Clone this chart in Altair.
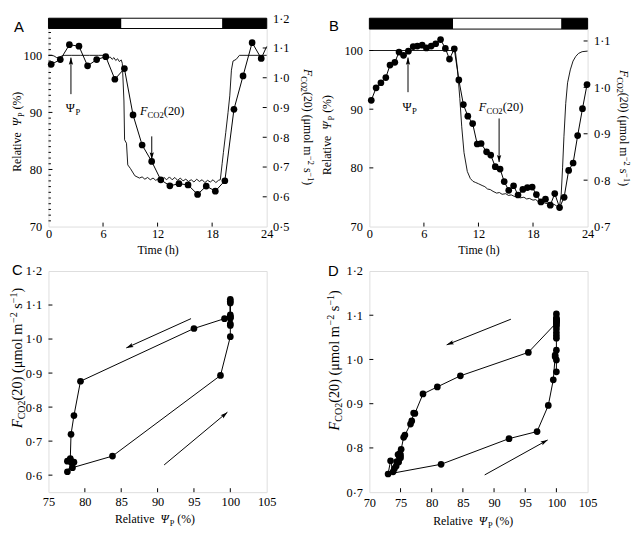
import math
import altair as alt
import pandas as pd

SERIF = "Liberation Serif"
SANS = "Liberation Sans"

# ---------------- data ----------------
# (A) relative turgor pressure, thin line, left axis
a_psi_t = [0.0, 0.3, 0.6, 0.9, 1.2, 1.5, 1.8, 2.5, 3.5, 4.5, 5.5, 6.3, 6.5, 6.8, 7.0, 7.2, 7.4, 7.6, 7.8, 8.0,
           8.12, 8.3, 8.37, 8.58, 8.72, 9.0, 9.5, 10.0, 10.3, 10.6, 10.9, 11.2, 11.5, 11.8, 12.1, 12.4, 12.7,
           13.0, 13.3, 13.6, 13.9, 14.2, 14.5, 14.8, 15.1, 15.4, 15.7, 16.0, 16.3, 16.6, 16.9, 17.2, 17.5,
           17.8, 18.1, 18.4, 18.7, 18.9, 19.1, 19.24, 19.5, 19.75, 19.94, 20.12, 20.3, 20.65, 21.0, 24.0]
a_psi_v = [100.0, 100.0, 99.9, 99.6, 99.7, 99.9, 100.0, 100.0, 100.0, 100.0, 100.0, 100.0, 99.6, 99.7, 99.3,
           99.6, 99.1, 99.4, 98.9, 99.2, 98.6, 92.0, 85.2, 84.6, 80.8, 80.2, 78.9, 78.5, 78.7, 78.3, 78.6,
           78.2, 78.5, 78.1, 78.4, 78.0, 78.6, 78.2, 78.7, 78.2, 78.6, 78.1, 78.5, 78.0, 78.3, 77.9, 78.2,
           77.8, 78.3, 77.9, 78.2, 77.7, 78.1, 77.8, 78.2, 77.7, 78.1, 78.2, 81.0, 83.0, 86.5, 90.0, 92.9,
           97.4, 99.0, 99.3, 100.0, 100.0]
# (A) FCO2(20) dots, right axis
a_f_t = [0.3, 1.3, 2.3, 3.35, 4.3, 5.3, 6.3, 7.3, 8.35, 9.3, 10.3, 11.35, 12.35, 13.35, 14.35, 15.35,
         16.4, 17.35, 18.35, 19.4, 20.4, 21.4, 22.4, 23.4]
a_f = [1.045, 1.061, 1.111, 1.106, 1.040, 1.061, 1.071, 0.995, 1.031, 0.875, 0.774, 0.719, 0.657, 0.637,
       0.644, 0.640, 0.608, 0.636, 0.619, 0.654, 0.894, 1.006, 1.118, 1.065]
a_f_edge_t = [24.0]
a_f_edge = [1.105]
a_dark_start = [0.0, 19.1]
a_dark_end = [8.0, 24.0]

# (B)
b_psi_t = [0.0, 9.45, 9.7, 9.95, 10.16, 10.41, 10.77, 11.1, 11.4, 11.7, 12.0, 12.4, 12.7, 13.0, 13.3, 13.6,
           14.0, 14.3, 14.6, 15.0, 15.3, 15.6, 16.0, 16.3, 16.6, 17.0, 17.3, 17.6, 18.0, 18.3, 18.6, 19.0,
           19.3, 19.6, 20.0, 20.3, 20.6, 20.9, 21.1, 21.25, 21.4, 21.6, 21.8, 22.1, 22.4, 22.7, 23.0, 23.4, 24.0]
b_psi_v = [100.0, 100.0, 96.7, 91.8, 87.0, 82.6, 79.4, 78.2, 77.7, 77.5, 77.3, 77.0, 76.8, 76.4, 76.3, 76.0,
           75.7, 75.8, 75.5, 75.6, 75.3, 75.4, 75.1, 75.2, 74.9, 75.0, 74.7, 74.8, 74.5, 74.6, 74.2, 74.3,
           74.0, 73.9, 73.7, 73.8, 73.5, 73.3, 75.5, 80.0, 85.3, 91.0, 94.5, 96.7, 98.2, 99.0, 99.5, 99.8, 99.9]
b_f_t = [0.21, 0.74, 1.27, 1.81, 2.27, 2.80, 3.26, 3.76, 4.29, 4.82, 5.28, 5.81, 6.27, 6.80, 7.30, 7.83,
         8.36, 8.81, 9.34, 9.84, 10.34, 10.83, 11.36, 11.86, 12.29, 12.89, 13.35, 13.85, 14.38, 14.83,
         15.33, 15.86, 16.35, 16.88, 17.38, 17.91, 18.37, 18.87, 19.37, 19.90, 20.39, 20.92, 21.42, 21.92,
         22.41, 22.91, 23.44, 23.94]
b_f = [0.972, 0.999, 1.010, 1.021, 1.048, 1.054, 1.076, 1.069, 1.078, 1.088, 1.089, 1.091, 1.085, 1.089,
       1.094, 1.103, 1.084, 1.061, 1.083, 1.016, 0.963, 0.938, 0.922, 0.878, 0.879, 0.861, 0.854, 0.829,
       0.824, 0.797, 0.778, 0.788, 0.768, 0.780, 0.784, 0.785, 0.769, 0.753, 0.759, 0.746, 0.771, 0.741,
       0.763, 0.821, 0.837, 0.896, 0.954, 1.006]
b_dark_start = [0.0, 21.1]
b_dark_end = [9.2, 24.0]

# (C) FCO2(20) against relative Ψp (in time order)
c_psi = [100.0, 100.0, 100.0, 100.0, 100.0, 100.0, 100.0, 99.2, 95.0, 79.4, 78.5, 78.1, 78.0, 77.6, 78.0,
         78.5, 77.6, 78.2, 78.3, 83.8, 98.65, 100.0, 100.0, 100.0]
c_f = [1.045, 1.061, 1.111, 1.106, 1.040, 1.065, 1.071, 1.060, 1.031, 0.876, 0.775, 0.720, 0.649, 0.641,
       0.645, 0.638, 0.610, 0.636, 0.622, 0.656, 0.893, 1.007, 1.117, 1.065]

# (D) relative Ψp at the times of the B dots (FCO2 = b_f)
d_psi = [100.0, 100.0, 99.8, 100.0, 100.0, 100.0, 100.0, 100.0, 100.0, 100.0,
         100.0, 100.0, 100.0, 100.0, 100.0, 100.0, 100.0, 100.0, 100.0, 95.5,
         84.6, 80.9, 78.6, 77.3, 77.1, 76.8, 76.6, 75.7, 75.5, 75.1,
         75.0, 74.9, 74.7, 74.8, 75.0, 74.6, 74.4, 74.0, 74.3, 73.8,
         73.4, 73.0, 81.5, 92.4, 96.9, 98.7, 99.5, 99.8]

# tick values
time_ticks = [0, 6, 12, 18, 24]
psi_ticks = [70, 80, 90, 100]
psi_minor = [v for v in range(71, 107) if v % 10]
a_f_ticks = [0.5, 0.6, 0.7, 0.8, 0.9, 1.0, 1.1, 1.2]
b_f_ticks = [0.7, 0.8, 0.9, 1.0, 1.1]
c_x_ticks = [75, 80, 85, 90, 95, 100, 105]
c_y_ticks = [0.6, 0.7, 0.8, 0.9, 1.0, 1.1, 1.2]
d_x_ticks = [70, 75, 80, 85, 90, 95, 100, 105]
d_y_ticks = [0.7, 0.8, 0.9, 1.0, 1.1, 1.2]

# ---------------- layout ----------------
W = 221
HT = 211
HB = 224
COL_GAP = 104
ROW_GAP = 45
DOT = "replace(format(datum.value, '.1f'), '.', '·')"
HEAD = "M0,0L0.3,1L0,0.82L-0.3,1Z"

CW = {' ': 0.25, '(': 0.333, ')': 0.333, '%': 0.833, 'R': 0.667, 'e': 0.444, 'l': 0.278, 'a': 0.444,
      't': 0.278, 'i': 0.278, 'v': 0.5, 'm': 0.778, 'o': 0.5, 's': 0.389, 'μ': 0.576, 'C': 0.667,
      'O': 0.722, 'F': 0.611, 'P': 0.556, 'Ψ': 0.78, '−': 0.564}


def tw(s, size):
    return size * sum(CW.get(c, 0.5) for c in s)


def psi_title(s=12):
    return [("Relative  ", s, False, 0), ("Ψ", s, True, 0), ("P", s * 0.7, False, s * 0.25),
            (" (%)", s, False, 0)]


def f_title(s=12):
    k = s * 0.7
    return [("F", s, True, 0), ("CO2", k, False, s * 0.25), ("(20) (μmol m", s, False, 0),
            ("−2", k, False, -s * 0.33), (" s", s, False, 0), ("−1", k, False, -s * 0.33), (")", s, False, 0)]


F_LABEL = [("F", 12.5, True, 0), ("CO2", 8.75, False, 3), ("(20)", 12.5, False, 0)]
PSI_LABEL = [("Ψ", 12.5, False, 0), ("P", 8.75, False, 3)]


def rich(pieces, enc, data=None, angle=0, align='center'):
    df = data if data is not None else pd.DataFrame({'k': [0]})
    total = sum(tw(t, s) for t, s, _, _ in pieces)
    pos = -total / 2 if align == 'center' else 0.0
    out = []
    for t, s, ital, shift in pieces:
        body = t.lstrip(' ')
        lead = tw(t[:len(t) - len(body)], s)
        body = body.rstrip(' ')
        props = dict(text=body, align='left', baseline='alphabetic', font=SERIF, fontSize=s,
                     fontStyle='italic' if ital else 'normal', color='black', dx=round(pos + lead, 2),
                     dy=round(shift, 2))
        if angle:
            props['angle'] = angle
        out.append(alt.Chart(df).mark_text(**props).encode(**enc))
        pos += tw(t, s)
    return out


def pix_text(pieces, x, y, angle=0, align='center'):
    return rich(pieces, dict(x=alt.value(x), y=alt.value(y)), angle=angle, align=align)


def letter(ch, x, y):
    return alt.Chart(pd.DataFrame({'k': [0]})).mark_text(
        text=ch, font=SANS, fontSize=15, align='left', baseline='alphabetic', color='black'
    ).encode(x=alt.value(x), y=alt.value(y))


def scale(lo, hi):
    return alt.Scale(domain=[lo, hi], nice=False, zero=False)


def make_axis(orient, values, pad, expr=None, title=None):
    kw = dict(orient=orient, values=values, ticks=False, domain=False, grid=False,
              labelFont=SERIF, labelFontSize=12.5, labelColor='black', labelPadding=pad,
              labelOverlap=False, labelFlush=False)
    if expr:
        kw['labelExpr'] = expr
    if title:
        kw.update(title=title, titleFont=SERIF, titleFontSize=12, titleFontWeight='normal',
                  titleColor='black', titlePadding=5)
    else:
        kw['title'] = None
    return alt.Axis(**kw)


def arrow(x0, y0, x1, y1, XE, YE, sx, sy):
    df = pd.DataFrame({'x0': [x0], 'y0': [y0], 'x1': [x1], 'y1': [y1]})
    shaft = alt.Chart(df).mark_rule(color='black', strokeWidth=1).encode(
        x=XE('x0'), y=YE('y0'), x2='x1:Q', y2='y1:Q')
    dxp = (x1 - x0) * sx
    dyp = -(y1 - y0) * sy
    ang = math.degrees(math.atan2(dxp, -dyp)) % 360
    head = alt.Chart(df).mark_point(shape=HEAD, filled=True, size=210, angle=round(ang, 2),
                                    color='black', opacity=1).encode(x=XE('x1'), y=YE('y1'))
    return [shaft, head]


def yticks(values, YE, side, length):
    df = pd.DataFrame({'v': values})
    x0, x1 = (0, length) if side == 'left' else (W - length, W)
    return alt.Chart(df).mark_rule(color='black', strokeWidth=1).encode(
        y=YE('v'), x=alt.value(x0), x2=alt.value(x1))


def xticks(values, XE, H, length):
    df = pd.DataFrame({'v': values})
    return alt.Chart(df).mark_rule(color='black', strokeWidth=1).encode(
        x=XE('v'), y=alt.value(H - length), y2=alt.value(H))


def time_panel(p):
    xs = scale(0, 24)
    yl = scale(*p['yl'])
    yr = scale(*p['yr'])
    ax_x = make_axis('bottom', time_ticks, 1, title='Time (h)')
    ax_l = make_axis('left', psi_ticks, 7)
    ax_r = make_axis('right', p['r_ticks'], p['r_pad'], expr=DOT)
    sx = W / 24.0
    syl = HT / (p['yl'][1] - p['yl'][0])
    syr = HT / (p['yr'][1] - p['yr'][0])

    def XE(f):
        return alt.X(f + ':Q', scale=xs, axis=ax_x)

    def YL(f):
        return alt.Y(f + ':Q', scale=yl, axis=ax_l)

    def YR(f):
        return alt.Y(f + ':Q', scale=yr, axis=ax_r)

    top = p['yl'][1]
    bb = p['bar_bottom']
    band = alt.Chart(pd.DataFrame({'x0': [0.0], 'x1': [24.0], 'y0': [top], 'y1': [bb]})).mark_rect(
        fill='white', stroke='black', strokeWidth=1).encode(x=XE('x0'), x2='x1:Q', y=YL('y0'), y2='y1:Q')
    dark = alt.Chart(pd.DataFrame({'s': p['dark_s'], 'e': p['dark_e'], 'y0': top, 'y1': bb})).mark_rect(
        color='black').encode(x=XE('s'), x2='e:Q', y=YL('y0'), y2='y1:Q')
    psi_line = alt.Chart(pd.DataFrame({'t': p['psi_t'], 'v': p['psi_v']})).mark_line(
        color='black', strokeWidth=0.9).encode(x=XE('t'), y=YL('v'))
    ax0, ay0, ay1 = p['psi_arrow']
    psi_arr = arrow(ax0, ay0, ax0, ay1, XE, YL, sx, syl)
    lx, ly = p['psi_label']
    psi_lab = rich(PSI_LABEL, dict(x=XE('x'), y=YL('y')), data=pd.DataFrame({'x': [lx], 'y': [ly]}))
    lt = [yticks(psi_ticks[1:], YL, 'left', 4), xticks(time_ticks[1:-1], XE, HT, 4)]
    if p.get('minor'):
        lt.append(yticks(psi_minor, YL, 'left', 2.5))
    left = alt.layer(band, dark, psi_line, *psi_arr, *psi_lab, *lt)

    line_df = pd.DataFrame({'t': p['f_t'] + p['edge_t'], 'f': p['f'] + p['edge_f']})
    f_line = alt.Chart(line_df).mark_line(color='black', strokeWidth=1).encode(x=XE('t'), y=YR('f'))
    f_pts = alt.Chart(pd.DataFrame({'t': p['f_t'], 'f': p['f']})).mark_circle(
        color='black', opacity=1, size=46).encode(x=XE('t'), y=YR('f'))
    fx0, fy0, fy1 = p['f_arrow']
    f_arr = arrow(fx0, fy0, fx0, fy1, XE, YR, sx, syr)
    flx, fly = p['f_label']
    f_lab = rich(F_LABEL, dict(x=XE('x'), y=YR('y')), data=pd.DataFrame({'x': [flx], 'y': [fly]}),
                 align='left')
    rt = yticks(p['r_ticks'][1:-1] if p['r_ticks'][-1] >= p['yr'][1] else p['r_ticks'][1:], YR, 'right', 4)
    right = alt.layer(f_line, f_pts, *f_arr, *f_lab, rt)

    tl = pix_text(psi_title(12), p['lt_x'], p['lt_y'] * HT, angle=270)
    tr = pix_text(f_title(12), W + p['rt_x'], p['rt_y'] * HT, angle=90)
    let = letter(p['letter'], p['let'][0], p['let'][1])
    return alt.layer(left, right, *tl, *tr, let).resolve_scale(y='independent').properties(width=W, height=HT)


def xy_panel(p):
    xs = scale(*p['xd'])
    ys = scale(*p['yd'])
    ax_x = make_axis('bottom', p['x_ticks'], p['x_pad'])
    ax_y = make_axis('left', p['y_ticks'], 7, expr=DOT)
    sx = W / (p['xd'][1] - p['xd'][0])
    sy = HB / (p['yd'][1] - p['yd'][0])

    def XE(f):
        return alt.X(f + ':Q', scale=xs, axis=ax_x)

    def YE(f):
        return alt.Y(f + ':Q', scale=ys, axis=ax_y)

    df = pd.DataFrame({'i': list(range(len(p['x']))), 'x': p['x'], 'y': p['y']})
    line = alt.Chart(df).mark_line(color='black', strokeWidth=1).encode(x=XE('x'), y=YE('y'), order='i:Q')
    pts = alt.Chart(df).mark_circle(color='black', opacity=1, size=46).encode(x=XE('x'), y=YE('y'))
    arrs = []
    for (x0, y0, x1, y1) in p['arrows']:
        arrs += arrow(x0, y0, x1, y1, XE, YE, sx, sy)
    ticks = [yticks(p['y_ticks'][1:-1] if p['y_ticks'][0] == p['yd'][0] else p['y_ticks'][:-1], YE, 'left', 4),
             xticks(p['x_ticks'][1:-1], XE, HB, 4)]
    tl = pix_text(f_title(p['fs']), p['lt_x'], p['lt_y'] * HB, angle=270)
    tb = pix_text(psi_title(12), p['bt_x'] * W, HB + p['bt_y'])
    let = letter(p['letter'], p['let'][0], p['let'][1])
    return alt.layer(line, pts, *arrs, *ticks, *tl, *tb, let).properties(width=W, height=HB)


A = time_panel(dict(
    yl=(70, 106.5), yr=(0.5, 1.2), r_ticks=a_f_ticks, r_pad=6, bar_bottom=104.7,
    dark_s=a_dark_start, dark_e=a_dark_end, psi_t=a_psi_t, psi_v=a_psi_v,
    f_t=a_f_t, f=a_f, edge_t=a_f_edge_t, edge_f=a_f_edge, minor=True,
    psi_arrow=(2.47, 93.2, 99.6), psi_label=(2.7, 90.05),
    f_arrow=(11.36, 0.803, 0.726), f_label=(10.06, 0.876),
    lt_x=-27.5, lt_y=0.545, rt_x=37.5, rt_y=0.523, letter='A', let=(-35, 14)))

B = time_panel(dict(
    yl=(70, 105.5), yr=(0.7, 1.149), r_ticks=b_f_ticks, r_pad=6, bar_bottom=103.65,
    dark_s=b_dark_start, dark_e=b_dark_end, psi_t=b_psi_t, psi_v=b_psi_v,
    f_t=b_f_t, f=b_f, edge_t=[], edge_f=[], minor=False,
    psi_arrow=(4.25, 92.9, 98.8), psi_label=(4.43, 89.7),
    f_arrow=(14.27, 0.933, 0.839), f_label=(12.04, 0.949),
    lt_x=-38.5, lt_y=0.561, rt_x=33.0, rt_y=0.527, letter='B', let=(-41, 13.3)))

C = xy_panel(dict(
    xd=(75, 105), yd=(0.55, 1.2), x_ticks=c_x_ticks, y_ticks=c_y_ticks, x_pad=4,
    x=c_psi, y=c_f,
    arrows=[(94.6, 1.060, 85.7, 0.974), (90.9, 0.630, 99.6, 0.785)],
    fs=14.5, lt_x=-27, lt_y=0.393, bt_x=0.488, bt_y=31, letter='C', let=(-37, 4)))

D = xy_panel(dict(
    xd=(70, 105), yd=(0.7, 1.2), x_ticks=d_x_ticks, y_ticks=d_y_ticks, x_pad=5,
    x=d_psi, y=b_f,
    arrows=[(92.7, 1.091, 82.4, 1.033), (88.5, 0.739, 98.6, 0.818)],
    fs=14.5, lt_x=-31, lt_y=0.404, bt_x=0.476, bt_y=33, letter='D', let=(-42, 5)))

chart = alt.concat(A, B, C, D, columns=2, spacing={'row': ROW_GAP, 'column': COL_GAP}, bounds='flush')
chart = chart.properties(padding=0, background='white').configure_view(
    stroke='black', strokeWidth=1).configure(font=SERIF)

chart.save("out.html", embed_options={"renderer": "svg", "actions": False})
